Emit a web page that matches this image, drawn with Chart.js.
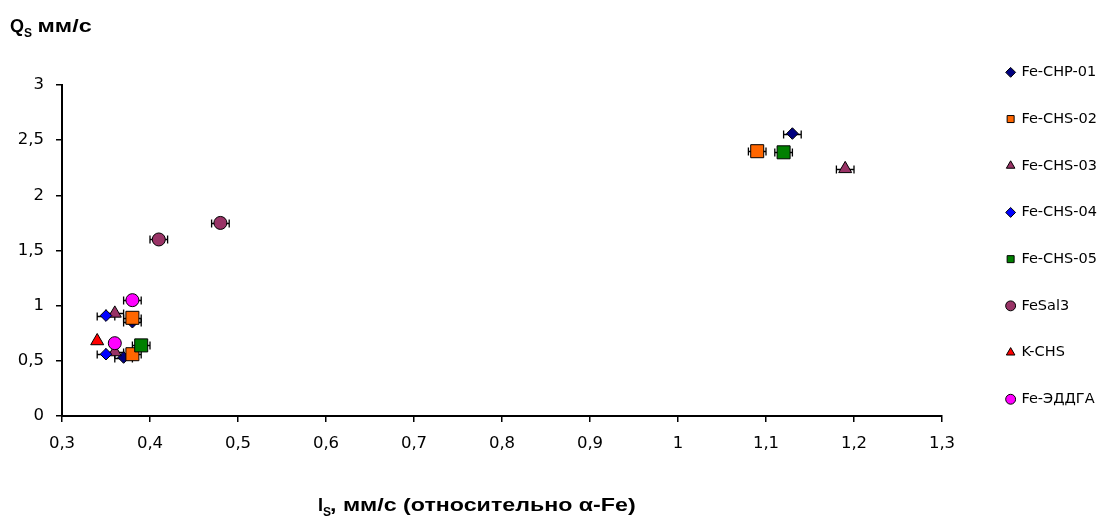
<!DOCTYPE html>
<html>
<head>
<meta charset="UTF-8">
<title>Qs / Is</title>
<script src="https://cdn.jsdelivr.net/npm/chart.js@4.4.1/dist/chart.umd.min.js"></script>
<style>
html, body { margin: 0; padding: 0; background: #ffffff; }
#wrap { width: 1107px; height: 517px; }
</style>
</head>
<body>
<div id="wrap"><canvas id="chart" width="1107" height="517"></canvas></div>
<script>
// series (legend order)
var seriesNames = ['Fe-CHP-01', 'Fe-CHS-02', 'Fe-CHS-03', 'Fe-CHS-04', 'Fe-CHS-05', 'FeSal3', 'K-CHS', 'Fe-ЭДДГА'];
var seriesColors = ['#000080', '#FF6600', '#993366', '#0000FF', '#008000', '#993366', '#FF0000', '#FF00FF'];
var seriesMarkers = ['rectRot', 'rect', 'triangle', 'rectRot', 'rect', 'circle', 'triangle', 'circle'];
var markerRadius = [5.8, 9.2, 7.5, 5.8, 9.2, 6.5, 7.5, 6.5];

// Is, мм/с  (x)
var isValues = [
    [0.38, 0.37, 1.13],
    [0.38, 0.38, 1.09],
    [0.36, 0.36, 1.19],
    [0.35, 0.35],
    [0.39, 1.12],
    [0.41, 0.48],
    [0.34],
    [0.38, 0.36]
];
// Qs, мм/с  (y)
var qsValues = [
    [0.85, 0.53, 2.56],
    [0.89, 0.56, 2.40],
    [0.93, 0.58, 2.24],
    [0.91, 0.56],
    [0.64, 2.39],
    [1.60, 1.75],
    [0.68],
    [1.05, 0.66]
];
// horizontal error of Is
var isErrors = [
    [0.01, 0.01, 0.01],
    [0.01, 0.01, 0.01],
    [0.01, 0.01, 0.01],
    [0.01, 0.01],
    [0.01, 0.01],
    [0.01, 0.01],
    [0],
    [0.01, 0]
];

var xTickValues = [0.3, 0.4, 0.5, 0.6, 0.7, 0.8, 0.9, 1.0, 1.1, 1.2, 1.3];
var xTickLabels = ['0,3', '0,4', '0,5', '0,6', '0,7', '0,8', '0,9', '1', '1,1', '1,2', '1,3'];
var yTickValues = [0, 0.5, 1, 1.5, 2, 2.5, 3];
var yTickLabels = ['0', '0,5', '1', '1,5', '2', '2,5', '3'];

var yTitleParts = ['Q', 'S', ' мм/с'];
var xTitleParts = ['I', 'S', ', мм/с (относительно α-Fe)'];

var datasets = [];
for (var i = 0; i < seriesNames.length; i++) {
    var pts = [];
    for (var j = 0; j < isValues[i].length; j++) pts.push({x: isValues[i][j], y: qsValues[i][j]});
    datasets.push({
        label: seriesNames[i],
        data: pts,
        order: seriesNames.length - i,   // later series on top, like excel
        pointStyle: seriesMarkers[i],
        pointRadius: markerRadius[i],
        pointBackgroundColor: seriesColors[i],
        backgroundColor: seriesColors[i],
        pointBorderColor: '#000000',
        borderColor: '#000000',
        pointBorderWidth: 1,
        borderWidth: 1
    });
}

var errorBars = {
    id: 'errorBars',
    beforeDatasetsDraw: function (chart) {
        var ctx = chart.ctx, xs = chart.scales.x, ys = chart.scales.y;
        ctx.save();
        ctx.strokeStyle = '#000000';
        ctx.lineWidth = 1.3;
        for (var s = 0; s < isValues.length; s++) {
            for (var p = 0; p < isValues[s].length; p++) {
                var e = isErrors[s][p];
                if (!e) continue;
                var x1 = xs.getPixelForValue(isValues[s][p] - e);
                var x2 = xs.getPixelForValue(isValues[s][p] + e);
                var y = Math.round(ys.getPixelForValue(qsValues[s][p])) + 0.5;
                ctx.beginPath();
                ctx.moveTo(x1, y); ctx.lineTo(x2, y);
                ctx.moveTo(x1, y - 4); ctx.lineTo(x1, y + 4);
                ctx.moveTo(x2, y - 4); ctx.lineTo(x2, y + 4);
                ctx.stroke();
            }
        }
        ctx.restore();
    }
};

// axis titles with subscript S; the words are drawn a bit wide like the original
function drawTitle(ctx, parts, x, y, wide, gap) {
    var fonts = ['bold 18px "Liberation Sans", Arial, sans-serif', 'bold 12px "Liberation Sans", Arial, sans-serif', 'bold 18px "Liberation Sans", Arial, sans-serif'];
    var dy = [0, 5, 0];
    var sx = [1, 1, wide];
    var dx = [0, 0, gap];
    for (var k = 0; k < parts.length; k++) {
        ctx.font = fonts[k];
        x += dx[k];
        ctx.save();
        ctx.translate(x, y + dy[k]);
        ctx.scale(sx[k], 1);
        ctx.fillText(parts[k], 0, 0);
        ctx.restore();
        x += ctx.measureText(parts[k]).width * sx[k];
    }
}

var axisTitles = {
    id: 'axisTitles',
    afterDraw: function (chart) {
        var ctx = chart.ctx;
        ctx.save();
        ctx.fillStyle = '#000000';
        ctx.textBaseline = 'alphabetic';
        ctx.textAlign = 'left';
        drawTitle(ctx, yTitleParts, 10, 31.5, 1.3, -1);
        drawTitle(ctx, xTitleParts, 318, 511, 1.29, -1);
        ctx.restore();
    }
};

var tickFont = {family: '"DejaVu Sans", sans-serif', size: 16.5};

new Chart(document.getElementById('chart').getContext('2d'), {
    type: 'scatter',
    data: {datasets: datasets},
    plugins: [errorBars, axisTitles],
    options: {
        responsive: false,
        animation: false,
        events: [],
        layout: {padding: 0},
        plugins: {
            tooltip: {enabled: false},
            title: {display: false},
            legend: {
                position: 'right',
                align: 'start',
                title: {display: true, text: '', padding: {top: 18.5, bottom: 0}},
                labels: {
                    usePointStyle: true,
                    boxWidth: 7,
                    boxHeight: 7,
                    padding: 32.2,
                    color: '#000000',
                    font: {family: '"DejaVu Sans", sans-serif', size: 14.5},
                    sort: function (a, b) { return a.datasetIndex - b.datasetIndex; }
                }
            }
        },
        scales: {
            x: {
                type: 'linear',
                position: 'bottom',
                min: 0.3,
                max: 1.3,
                afterBuildTicks: function (scale) {
                    scale.ticks = xTickValues.map(function (v) { return {value: v}; });
                },
                afterFit: function (scale) { scale.height = 101; },
                ticks: {
                    autoSkip: false,
                    maxRotation: 0,
                    padding: 12,
                    color: '#000000',
                    font: tickFont,
                    callback: function (value, index) { return xTickLabels[index]; }
                },
                grid: {drawOnChartArea: false, drawTicks: true, tickLength: 6, color: '#000000', lineWidth: 1.5},
                border: {display: true, color: '#000000', width: 2}
            },
            y: {
                type: 'linear',
                position: 'left',
                min: 0,
                max: 3,
                afterBuildTicks: function (scale) {
                    scale.ticks = yTickValues.map(function (v) { return {value: v}; });
                },
                afterFit: function (scale) { scale.width = 62; },
                ticks: {
                    autoSkip: false,
                    padding: 12,
                    color: '#000000',
                    font: tickFont,
                    callback: function (value, index) { return yTickLabels[index]; }
                },
                grid: {drawOnChartArea: false, drawTicks: true, tickLength: 6, color: '#000000', lineWidth: 1.5},
                border: {display: true, color: '#000000', width: 2}
            },
            // empty spacer axes: room above the plot and right of it
            x2: {
                type: 'linear', position: 'top', min: 0, max: 1,
                ticks: {display: false}, grid: {display: false}, border: {display: false},
                afterFit: function (scale) { scale.height = 85; }
            },
            y2: {
                type: 'linear', position: 'right', min: 0, max: 1,
                ticks: {display: false}, grid: {display: false}, border: {display: false},
                afterFit: function (scale) { scale.width = Math.max(0, 1107 - 942 - scale.chart.legend.width); }
            }
        }
    }
});
</script>
</body>
</html>
